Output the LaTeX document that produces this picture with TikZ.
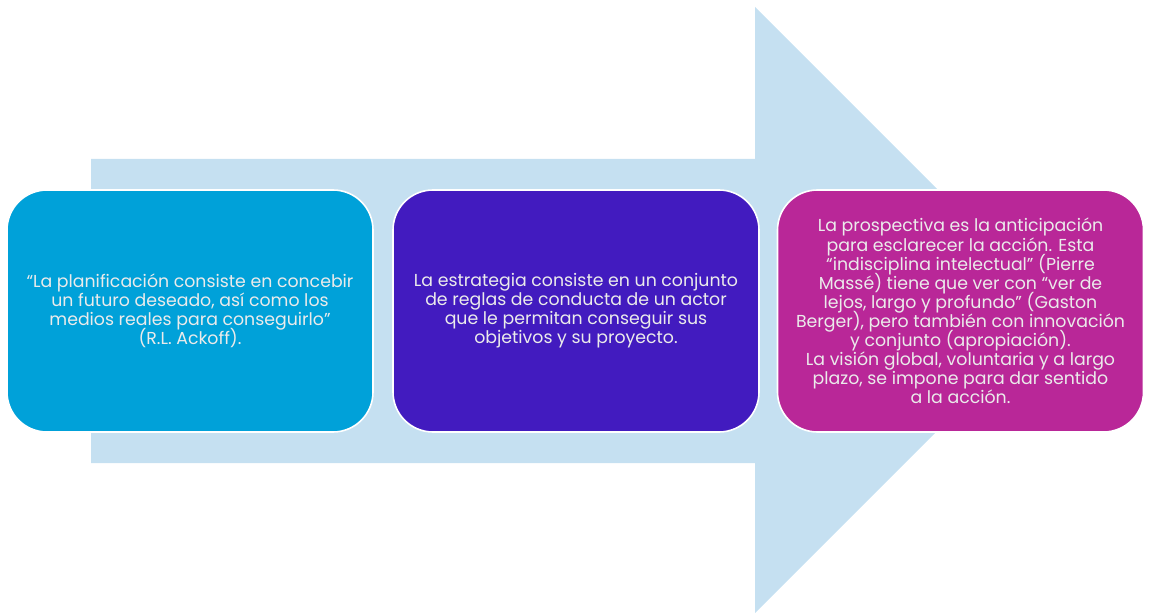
\documentclass[tikz,border=0pt]{standalone}
\usepackage{fontspec}
\setmainfont{Poppins}
\definecolor{arrowblue}{RGB}{197,224,241}
\definecolor{cyanbox}{RGB}{0,161,217}
\definecolor{purplebox}{RGB}{66,27,191}
\definecolor{magentabox}{RGB}{185,39,152}
\newcommand\panelfont{\fontsize{13}{14.3}\selectfont\lineskiplimit=-10pt\relax\lineskip=0pt\relax}
\tikzset{
  panel/.style={draw=white, line width=1.2pt, rounded corners=30pt,
    minimum width=274.5pt, minimum height=181.5pt, align=center,
    text=white!92!black, font=\panelfont, inner sep=2pt},
}
\begin{document}
\begin{tikzpicture}[x=0.75pt,y=-0.75pt]
\useasboundingbox (0,0) rectangle (1149,613);
\fill[arrowblue] (91,159) -- (755,159) -- (755,7) -- (1058,310) -- (755,613) -- (755,463) -- (91,463) -- cycle;
\node[panel, fill=cyanbox] (b1) at (190,311) {“La planificación consiste en concebir\\un futuro deseado, así como los\\medios reales para conseguirlo”\\(R.L. Ackoff).};
\node[panel, fill=purplebox] (b2) at (576,311) {La estrategia consiste en un conjunto\\de reglas de conducta de un actor\\que le permitan conseguir sus\\objetivos y su proyecto.};
\node[panel, fill=magentabox] (b3) at (960.5,311) {La prospectiva es la anticipación\\para esclarecer la acción. Esta\\“indisciplina intelectual” (Pierre\\Massé) tiene que ver con “ver de\\lejos, largo y profundo” (Gaston\\Berger), pero también con innovación\\y conjunto (apropiación).\\La visión global, voluntaria y a largo\\plazo, se impone para dar sentido\\a la acción.};
\end{tikzpicture}
\end{document}
